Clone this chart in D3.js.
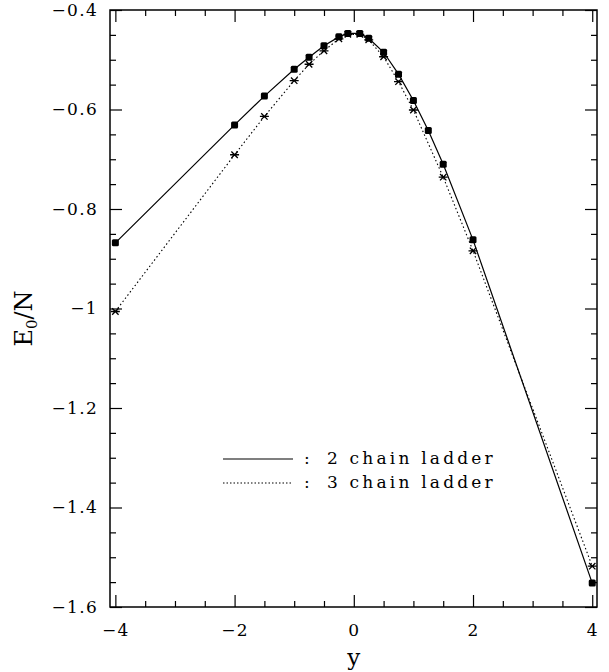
<!DOCTYPE html>
<meta charset="utf-8">
<style>
body, html { margin: 0; background: #fff; }
text { font-family: "DejaVu Serif", serif; fill: #000; }
.tick text { font-size: 17px; letter-spacing: 1.3px; }
.frame { fill: none; stroke: #000; stroke-width: 1.5px; }
.tick line { stroke: #000; stroke-width: 1.2px; }
</style>
<svg></svg>
<script src="https://d3js.org/d3.v7.min.js"></script>
<script>

// 2 chain ladder (solid, filled squares)
var y2 = [-4, -2, -1.5, -1, -0.75, -0.5, -0.25, -0.1, 0.1, 0.25, 0.5, 0.75, 1, 1.25, 1.5, 2, 4];
var e2 = [-0.868, -0.631, -0.573, -0.519, -0.495, -0.472, -0.454, -0.447, -0.447, -0.457, -0.485, -0.529, -0.582, -0.642, -0.710, -0.862, -1.552];

// 3 chain ladder (dotted, stars)
var y3 = [-4, -2, -1.5, -1, -0.75, -0.5, -0.25, -0.1, 0.1, 0.25, 0.5, 0.75, 1, 1.5, 2, 4];
var e3 = [-1.006, -0.691, -0.614, -0.542, -0.509, -0.482, -0.458, -0.449, -0.449, -0.460, -0.494, -0.544, -0.601, -0.736, -0.884, -1.518];

var xTicks = [-4, -2, 0, 2, 4];
var xTickLabels = ['\u22124', '\u22122', '0', '2', '4'];
var yTicks = [-0.4, -0.6, -0.8, -1, -1.2, -1.4, -1.6];
var yTickLabels = ['\u22120.4', '\u22120.6', '\u22120.8', '\u22121', '\u22121.2', '\u22121.4', '\u22121.6'];
var legendLabels = ['2 chain ladder', '3 chain ladder'];

var margin = {top: 10, right: 12, bottom: 65, left: 110};
var width = 609 - margin.left - margin.right;
var height = 672 - margin.top - margin.bottom;

var svg = d3.select('svg')
  .attr('width', 609)
  .attr('height', 672)
  .append('g')
  .attr('transform', 'translate(' + margin.left + ',' + margin.top + ')');

var x = d3.scaleLinear().domain([-4.09, 4.08]).range([0, width]);
var y = d3.scaleLinear().domain([-1.6, -0.4]).range([height, 0]);

var xMinor = d3.range(-4, 4.01, 0.5).filter(function (d) { return xTicks.indexOf(d) < 0; });
var yMinor = d3.range(-1.6, -0.39, 0.05).map(function (d) { return +d.toFixed(2); })
  .filter(function (d) { return yTicks.indexOf(d) < 0; });

function drawAxis(axis, tx) {
  var g = svg.append('g').attr('transform', tx).call(axis);
  g.select('.domain').remove();
  return g;
}

// major + minor ticks on all four sides, pointing inward
var gx = drawAxis(d3.axisBottom(x).tickValues(xTicks).tickSize(-12)
  .tickFormat(function (d, i) { return xTickLabels[i]; }), 'translate(0,' + height + ')');
gx.selectAll('text').attr('y', 29).attr('dy', 0);
drawAxis(d3.axisBottom(x).tickValues(xMinor).tickSize(-6).tickFormat(''), 'translate(0,' + height + ')');
drawAxis(d3.axisTop(x).tickValues(xTicks).tickSize(-12).tickFormat(''), 'translate(0,0)');
drawAxis(d3.axisTop(x).tickValues(xMinor).tickSize(-6).tickFormat(''), 'translate(0,0)');

drawAxis(d3.axisLeft(y).tickValues(yTicks).tickSize(-12).tickPadding(12)
  .tickFormat(function (d, i) { return yTickLabels[i]; }), 'translate(0,0)');
drawAxis(d3.axisLeft(y).tickValues(yMinor).tickSize(-6).tickFormat(''), 'translate(0,0)');
drawAxis(d3.axisRight(y).tickValues(yTicks).tickSize(-12).tickFormat(''), 'translate(' + width + ',0)');
drawAxis(d3.axisRight(y).tickValues(yMinor).tickSize(-6).tickFormat(''), 'translate(' + width + ',0)');

svg.append('rect').attr('class', 'frame')
  .attr('x', 0).attr('y', 0).attr('width', width).attr('height', height);

var line = d3.line()
  .x(function (d) { return x(d[0]); })
  .y(function (d) { return y(d[1]); });

var pts2 = y2.map(function (d, i) { return [d, e2[i]]; });
var pts3 = y3.map(function (d, i) { return [d, e3[i]]; });

svg.append('path').datum(pts3)
  .attr('d', line)
  .attr('fill', 'none').attr('stroke', '#000').attr('stroke-width', 1.1)
  .attr('stroke-dasharray', '1.5,2.5');

svg.append('path').datum(pts2)
  .attr('d', line)
  .attr('fill', 'none').attr('stroke', '#000').attr('stroke-width', 1.2);

var star = 'M-4.5,0H4.5M-3.2,-3.2L3.2,3.2M-3.2,3.2L3.2,-3.2';

svg.append('g').selectAll('path')
  .data(pts3)
  .enter().append('path')
  .attr('transform', function (d) { return 'translate(' + x(d[0]) + ',' + y(d[1]) + ')'; })
  .attr('d', star)
  .attr('stroke', '#000').attr('stroke-width', 1.3).attr('fill', 'none');

svg.append('g').selectAll('rect')
  .data(pts2)
  .enter().append('rect')
  .attr('x', function (d) { return x(d[0]) - 3.5; })
  .attr('y', function (d) { return y(d[1]) - 3.5; })
  .attr('width', 7).attr('height', 7)
  .attr('rx', 1.5)
  .attr('fill', '#000');

// legend
var legend = svg.append('g').attr('transform', 'translate(113,449)');
legendLabels.forEach(function (lab, i) {
  var row = legend.append('g').attr('transform', 'translate(0,' + i * 24 + ')');
  row.append('line')
    .attr('x1', 0).attr('x2', 70).attr('y1', 0).attr('y2', 0)
    .attr('stroke', '#000').attr('stroke-width', 1.2)
    .attr('stroke-dasharray', i === 1 ? '1.5,2' : null);
  row.append('text').attr('x', 81).attr('y', 5)
    .style('font-size', '17px').text(':');
  row.append('text').attr('x', 104).attr('y', 5)
    .style('font-size', '17px').style('letter-spacing', '3.2px')
    .text(lab);
});

// axis titles
svg.append('text')
  .attr('x', x(0)).attr('y', height + 58)
  .attr('text-anchor', 'middle')
  .style('font-size', '23px')
  .text('y');

var yt = svg.append('text')
  .attr('transform', 'translate(-78,' + (height / 2 + 10) + ') rotate(-90)')
  .attr('text-anchor', 'middle')
  .style('font-size', '24px');
yt.append('tspan').text('E');
yt.append('tspan').attr('dy', 5).style('font-size', '15px').text('0');
yt.append('tspan').attr('dy', -5).text('/N');

</script>
